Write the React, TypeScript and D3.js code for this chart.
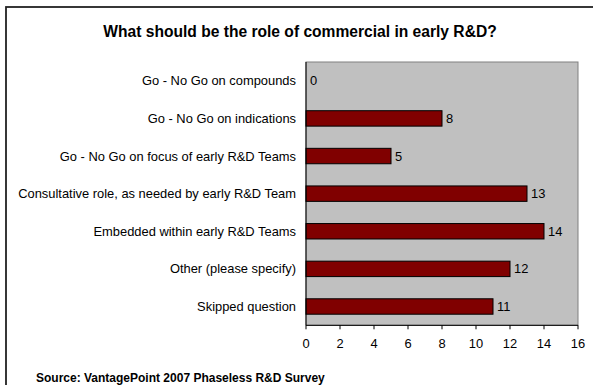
import React from "react";
import * as d3 from "d3";

const categories = [
  "Go - No Go on compounds",
  "Go - No Go on indications",
  "Go - No Go on focus of early R&D Teams",
  "Consultative role, as needed by early R&D Team",
  "Embedded within early R&D Teams",
  "Other (please specify)",
  "Skipped question",
];
const values = [0, 8, 5, 13, 14, 12, 11];
const xTicks = [0, 2, 4, 6, 8, 10, 12, 14, 16];
const title = "What should be the role of commercial in early R&D?";
const source = "Source:  VantagePoint 2007 Phaseless R&D Survey";

export default function App() {
  const W = 593, H = 385;
  const left = 306, right = 578, top = 62, bottom = 325.3;
  const x = d3.scaleLinear().domain([0, 16]).range([left, right]);
  const y = d3.scaleBand<string>().domain(categories).range([top, bottom]).paddingInner(0.59).paddingOuter(0.295);
  const font = "Arial, 'Liberation Sans', sans-serif";
  return (
    <svg width={W} height={H} style={{ position: "absolute", left: 0, top: 0, background: "#fff" }} fontFamily={font}>
      <rect x={6} y={7} width={W} height={H} fill="#fff" stroke="#222" strokeWidth={1.8} />
      <text x={300} y={37} textAnchor="middle" fontSize={15.6} fontWeight="bold" fill="#000">{title}</text>
      <rect x={left} y={top} width={right - left} height={bottom - top} fill="#c0c0c0" stroke="#808080" strokeWidth={1} />
      {categories.map((c, i) => {
        const yy = y(c)!;
        const bw = y.bandwidth();
        const cy = yy + bw / 2;
        return (
          <g key={c}>
            <text x={296} y={cy} dy="0.35em" textAnchor="end" fontSize={12.9} fill="#000">{c}</text>
            {values[i] > 0 && (
              <rect x={x(0)} y={yy} width={x(values[i]) - x(0)} height={bw} fill="#800000" stroke="#000" strokeWidth={1} />
            )}
            <text x={x(values[i]) + 4} y={cy} dy="0.35em" fontSize={12.9} fill="#000">{values[i]}</text>
          </g>
        );
      })}
      <line x1={left} x2={left} y1={top} y2={bottom} stroke="#000" strokeWidth={1} />
      <line x1={left} x2={right} y1={bottom} y2={bottom} stroke="#000" strokeWidth={1} />
      {xTicks.map((t) => (
        <g key={t}>
          <line x1={x(t)} x2={x(t)} y1={bottom} y2={bottom + 4} stroke="#000" strokeWidth={1} />
          <text x={x(t)} y={343} dy="0.35em" textAnchor="middle" fontSize={12.9} fill="#000">{t}</text>
        </g>
      ))}
      <text x={36} y={382} fontSize={12} fontWeight="bold" fill="#000">{source}</text>
    </svg>
  );
}
